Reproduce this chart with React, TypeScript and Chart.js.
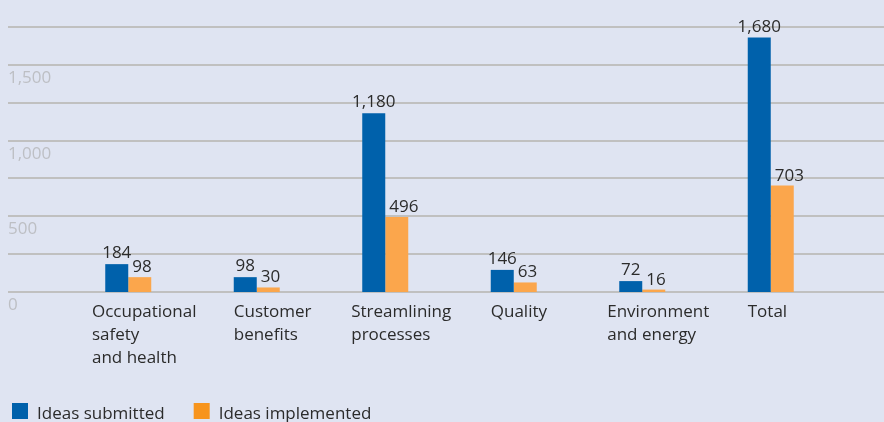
import React, { useEffect, useRef } from "react";
import { Chart, registerables } from "chart.js";

Chart.register(...registerables);

const categories: string[][] = [
  ["Occupational", "safety", "and health"],
  ["Customer", "benefits"],
  ["Streamlining", "processes"],
  ["Quality"],
  ["Environment", "and energy"],
  ["Total"],
];
const ideasSubmitted = [184, 98, 1180, 146, 72, 1680];
const ideasImplemented = [98, 30, 496, 63, 16, 703];
const seriesNames = ["Ideas submitted", "Ideas implemented"];
const barColors = ["#0061ab", "#fba64c"];
const legendColors = ["#0061ab", "#f7941d"];
const yTickLabels = [0, 500, 1000, 1500];
const yMax = 1750;
const yStep = 250;

const FONT = "'Open Sans', Lato, sans-serif";
const TEXT = "#2b2b2b";

const overlay = {
  id: "overlay",
  beforeDatasetsDraw(chart: any) {
    const ctx = chart.ctx;
    const y = chart.scales.y;
    ctx.save();
    ctx.strokeStyle = "#c0c0c0";
    ctx.lineWidth = 2;
    for (let v = 0; v <= yMax; v += yStep) {
      const py = Math.round(y.getPixelForValue(v));
      ctx.beginPath();
      ctx.moveTo(8, py);
      ctx.lineTo(chart.width, py);
      ctx.stroke();
    }
    ctx.font = `17px ${FONT}`;
    ctx.fillStyle = "#bdbfc4";
    ctx.textAlign = "left";
    ctx.textBaseline = "alphabetic";
    yTickLabels.forEach((v) => {
      ctx.fillText(v.toLocaleString("en-US"), 8, y.getPixelForValue(v) + 18);
    });
    ctx.restore();
  },
  afterDatasetsDraw(chart: any) {
    const ctx = chart.ctx;
    const x = chart.scales.x;
    const y = chart.scales.y;
    ctx.save();
    ctx.font = `17px ${FONT}`;
    ctx.fillStyle = TEXT;
    ctx.textBaseline = "alphabetic";
    // value labels
    chart.data.datasets.forEach((ds: any, di: number) => {
      const meta = chart.getDatasetMeta(di);
      meta.data.forEach((bar: any, j: number) => {
        const txt = Number(ds.data[j]).toLocaleString("en-US");
        if (di === 0) {
          ctx.textAlign = "center";
          ctx.fillText(txt, bar.x, bar.y - 6);
        } else {
          ctx.textAlign = "left";
          ctx.fillText(txt, bar.x - bar.width / 2 + 4, bar.y - 5);
        }
      });
    });
    // category labels
    const base = y.getPixelForValue(0);
    ctx.textAlign = "left";
    categories.forEach((lines, i) => {
      const cx = x.getPixelForValue(i);
      const w = Math.max(...lines.map((l) => ctx.measureText(l).width));
      const left = Math.min(cx - 23, cx + 16 - w / 2);
      lines.forEach((l, k) => {
        ctx.fillText(l, left, base + 25 + k * 23);
      });
    });
    // legend
    let lx = 12;
    const ly = 403;
    seriesNames.forEach((name, i) => {
      ctx.fillStyle = legendColors[i];
      ctx.fillRect(lx, ly, 16, 16);
      ctx.fillStyle = TEXT;
      ctx.fillText(name, lx + 25, ly + 16);
      lx += 25 + ctx.measureText(name).width + 29;
    });
    ctx.restore();
  },
};

export default function App() {
  const ref = useRef<HTMLCanvasElement>(null);
  useEffect(() => {
    if (!ref.current) return;
    const chart = new Chart(ref.current, {
      type: "bar",
      data: {
        labels: categories.map((c) => c.join(" ")),
        datasets: [
          {
            label: seriesNames[0],
            data: ideasSubmitted,
            backgroundColor: barColors[0],
            barPercentage: 1,
            categoryPercentage: 0.358,
          },
          {
            label: seriesNames[1],
            data: ideasImplemented,
            backgroundColor: barColors[1],
            barPercentage: 1,
            categoryPercentage: 0.358,
          },
        ],
      },
      options: {
        animation: false,
        responsive: false,
        devicePixelRatio: 1,
        layout: { padding: { left: 64, right: 49, top: 27, bottom: 130 } },
        plugins: { legend: { display: false }, tooltip: { enabled: false } },
        scales: {
          x: { display: false },
          y: { display: false, min: 0, max: yMax },
        },
      },
      plugins: [overlay],
    });
    return () => chart.destroy();
  }, []);
  return (
    <div
      style={{
        position: "fixed",
        left: 0,
        top: 0,
        width: 884,
        height: 422,
        background: "#dfe4f2",
      }}
    >
      <canvas ref={ref} width={884} height={422} style={{ display: "block" }} />
    </div>
  );
}
